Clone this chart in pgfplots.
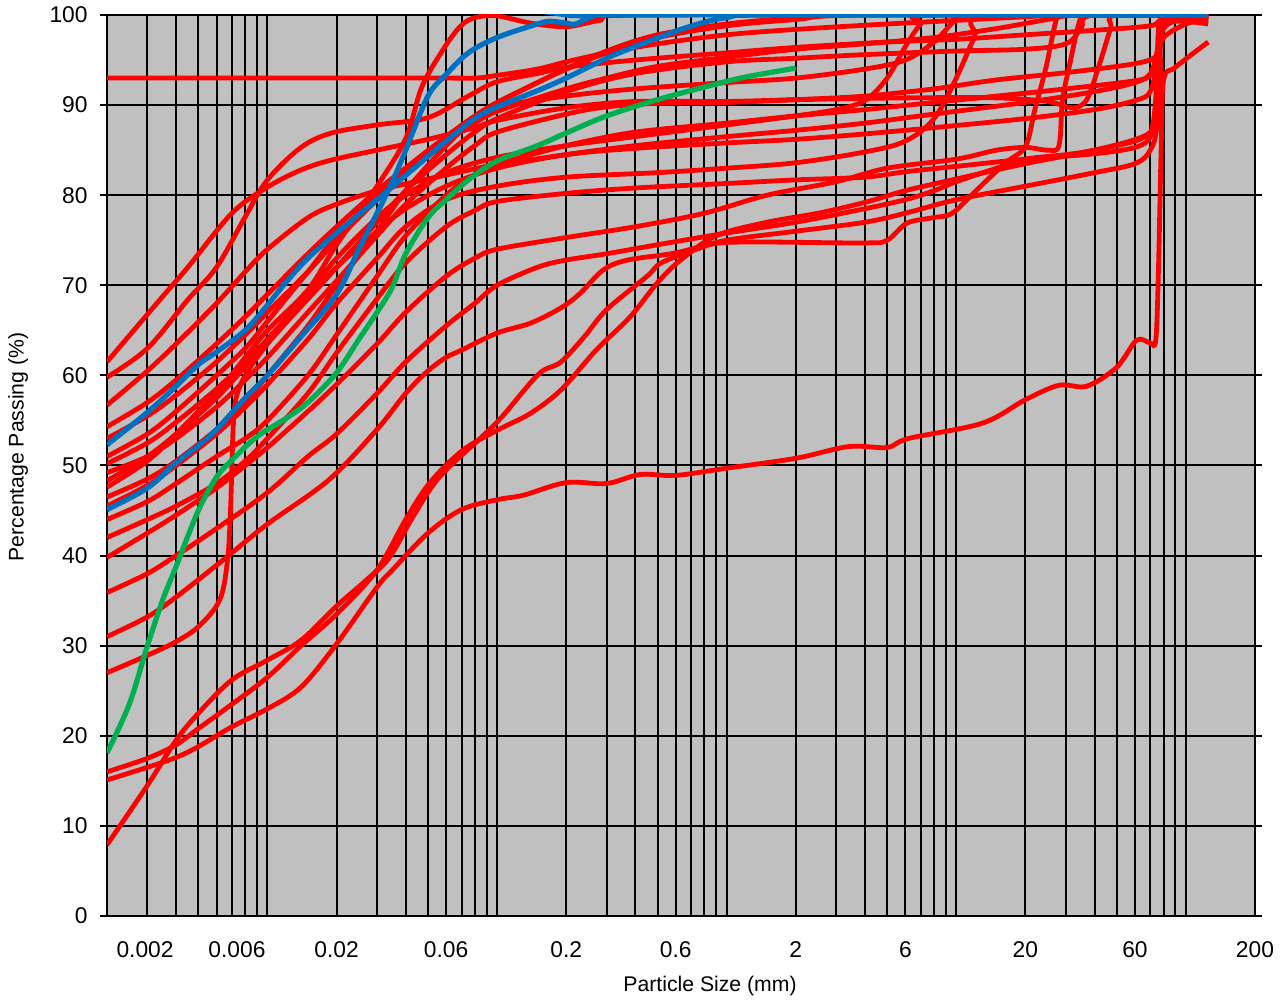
\documentclass[border=0pt]{standalone}
\usepackage{pgfplots}
\pgfplotsset{compat=1.18}
\usepackage{fontspec}
\setmainfont{Liberation Sans}
\definecolor{bggray}{RGB}{192,192,192}
\definecolor{rr}{RGB}{255,0,0}
\definecolor{bb}{RGB}{0,112,192}
\definecolor{gg}{RGB}{0,176,80}
\begin{document}
\fontsize{10.6bp}{12bp}\selectfont
\begin{tikzpicture}
\path[use as bounding box] (-53.5bp,-42.5bp) rectangle (589.5bp,458bp);
\begin{axis}[
  at={(0,0)}, anchor=south west,
  scale only axis, width=574bp, height=450.5bp,
  xmode=log,
  xmin=0.002, xmax=200, ymin=0, ymax=100,
  axis background/.style={fill=bggray},
  axis line style={black, line width=1.1bp},
  ytick={0,10,...,100},
  ymajorgrids,
  major grid style={black, line width=1bp},
  minor grid style={black, line width=1bp},
  xtick={0.00293,0.00736,0.02,0.06,0.2,0.6,2,6,20,60,200},
  xticklabels={0.002,0.006,0.02,0.06,0.2,0.6,2,6,20,60,200},
  minor xtick={0.002,0.003,0.004,0.005,0.006,0.007,0.008,0.009,0.01,0.02,0.03,0.04,0.05,0.06,0.07,0.08,0.09,0.1,0.2,0.3,0.4,0.5,0.6,0.7,0.8,0.9,1,2,3,4,5,6,7,8,9,10,20,30,40,50,60,70,80,90,100,200},
  xminorgrids,
  tick align=outside,
  major tick length=3.5bp,
  minor tick length=0pt,
  xtick style={draw=none},
  ytick style={black, line width=1bp},
  yticklabel style={xshift=-2.5bp},
  xticklabel style={yshift=-5.5bp},
  /pgf/number format/assume math mode=true,
  tick label style={font=\fontsize{11.4bp}{13bp}\selectfont},
  xlabel={Particle Size (mm)},
  ylabel={Percentage Passing (\%)},
  xlabel style={at={(rel axis cs:0.5253,-0.0777)}, anchor=center, font=\fontsize{10.6bp}{12bp}\selectfont},
  ylabel style={at={(rel axis cs:-0.0775,0.5205)}, anchor=center, font=\fontsize{10.6bp}{12bp}\selectfont},
  every axis plot/.append style={smooth, tension=0.55, line width=2.4bp},
]
% ---------- red curves ----------
\addplot[rr] coordinates {(0.002,93)(0.05,93)(0.08,93)(0.1,93.3)(0.15,94)(0.2,94.8)(0.3,95.8)(0.5,96.8)(1,97.8)(2,98.4)(5,99)(10,99.4)(20,99.8)(30,100)(125,100)};
\addplot[rr] coordinates {(0.002,47.6)(0.003,50.5)(0.004,53.5)(0.005,56)(0.006,58)(0.008,62)(0.01,65)(0.015,69.5)(0.02,74.5)(0.03,81)(0.04,86.3)(0.047,92)(0.058,96.1)(0.069,98.7)(0.08,99.7)(0.1,99.9)(0.14,99.1)(0.2,98.7)(0.28,99.4)(0.45,100)(125,100)};
\addplot[rr] coordinates {(0.002,61.5)(0.0034,68.4)(0.0045,72)(0.007,78)(0.01,80.9)(0.014,82.8)(0.019,83.9)(0.03,85)(0.05,86.2)(0.08,87.5)(0.1,88.3)(0.2,89.7)(0.4,90.4)(1,90.4)(2,90.6)(6,90.8)(15,90.8)(25,90.4)(32,89.7)(37,90.6)(42,94.5)(47,98.5)(50,100)(125,100)};
\addplot[rr] coordinates {(0.002,59.8)(0.003,63)(0.0045,68.4)(0.006,72)(0.008,77.6)(0.01,81.7)(0.014,85.3)(0.019,86.9)(0.03,87.8)(0.05,88.6)(0.075,91)(0.1,92.6)(0.15,93.5)(0.2,94.2)(0.4,95)(1,95.8)(2,96.4)(5,97)(10,97.3)(20,97.8)(40,98.3)(70,98.8)(80,99.5)(125,99.8)};
\addplot[rr] coordinates {(0.002,56.7)(0.003,60.5)(0.004,63.5)(0.006,68)(0.008,71.5)(0.01,74)(0.015,77.5)(0.02,79)(0.03,80.5)(0.05,81.8)(0.1,83.5)(0.2,85.5)(0.4,87)(1,88)(2,88.8)(4,89.5)(8,90.3)(15,91)(30,91.8)(60,92.7)(70,93.3)(75,94.5)(80,99)(125,99)};
\addplot[rr] coordinates {(0.002,54.3)(0.003,57)(0.004,59.5)(0.006,63.5)(0.008,66.5)(0.01,69)(0.015,73.5)(0.02,76.5)(0.03,80.5)(0.04,83)(0.06,86)(0.08,88)(0.1,89.3)(0.2,91.8)(0.3,93)(0.5,94.3)(1,95.3)(2,96.2)(4,96.8)(8,97.5)(15,98.5)(25,99.5)(35,100)(125,100)};
\addplot[rr] coordinates {(0.002,51)(0.003,53.5)(0.004,56)(0.006,60)(0.008,63)(0.01,66)(0.015,71.5)(0.02,75.5)(0.03,80)(0.04,83)(0.06,86.5)(0.08,88.8)(0.1,90.3)(0.15,92.5)(0.2,94)(0.3,95.8)(0.5,97.5)(1,98.8)(2,99.5)(4,100)(125,100)};
\addplot[rr] coordinates {(0.002,50.2)(0.003,52.5)(0.004,54.8)(0.006,58.5)(0.008,61.5)(0.01,64)(0.015,68.5)(0.02,72)(0.03,77)(0.04,80.5)(0.06,84.5)(0.08,87)(0.1,88.5)(0.2,91.5)(0.4,93.5)(1,94.8)(2,95.2)(4,95.6)(10,96)(20,96.2)(30,96.8)(35,98.5)(40,100)(125,100)};
\addplot[rr] coordinates {(0.002,49.2)(0.003,51)(0.004,53)(0.006,56.5)(0.008,59.5)(0.01,62)(0.015,67)(0.02,70.5)(0.03,75.5)(0.04,79)(0.06,83)(0.08,85.5)(0.1,87)(0.2,89)(0.3,89.8)(0.5,90.2)(1,90.3)(2,90.6)(4,91)(8,91.8)(15,92.8)(30,93.6)(60,94.6)(75,95.5)(80,97.5)(100,99)(125,99.5)};
\addplot[rr] coordinates {(0.002,46.5)(0.003,48.5)(0.004,50.5)(0.006,54)(0.008,57)(0.01,60)(0.015,65.5)(0.02,70)(0.03,76)(0.04,80.5)(0.06,85.5)(0.08,88.5)(0.1,90.2)(0.15,92.5)(0.2,94)(0.3,96)(0.5,97.8)(1,99)(2,99.7)(3,100)(125,100)};
\addplot[rr] coordinates {(0.002,44)(0.003,46)(0.004,48)(0.006,51)(0.008,53)(0.01,55)(0.015,60)(0.02,64.5)(0.03,71)(0.04,75.5)(0.06,80)(0.08,82.3)(0.1,83.3)(0.2,84.5)(0.4,85.5)(1,86.5)(2,87.2)(4,88)(8,89)(20,90.3)(40,91.5)(60,92.5)(70,93.5)(75,96)(80,100)(125,100)};
\addplot[rr] coordinates {(0.002,42)(0.003,44)(0.004,45.5)(0.006,48)(0.008,50.5)(0.01,53)(0.015,58)(0.02,62.5)(0.03,68.5)(0.04,72.5)(0.06,76.5)(0.08,78.3)(0.1,79.3)(0.2,80.2)(0.4,80.8)(1,81.3)(2,81.7)(4,82)(6,82.6)(10,83.2)(20,84)(40,84.6)(60,85.3)(70,86.5)(75,90)(80,98.5)(125,99.5)};
\addplot[rr] coordinates {(0.002,39.8)(0.003,42.5)(0.004,44.5)(0.006,47.5)(0.008,50)(0.01,52)(0.015,56)(0.02,59)(0.03,63.5)(0.04,67)(0.06,71)(0.08,73)(0.1,74)(0.2,75.3)(0.4,76.5)(0.8,78)(1.5,80)(3,81.5)(5,83)(10,84)(15,85)(20,85.3)(25,85)(28,85.5)(29,90.5)(31,94.2)(35,99.8)(40,100)(125,100)};
\addplot[rr] coordinates {(0.002,35.9)(0.003,38)(0.004,40)(0.006,43)(0.01,47)(0.015,51)(0.02,53.5)(0.03,58)(0.04,61.5)(0.06,65.5)(0.08,68)(0.1,70)(0.15,72)(0.2,72.8)(0.3,73.5)(0.5,74.5)(1,75.8)(2,77)(4,78.5)(6,79.5)(8,80.5)(10,81.5)(15,83)(20,84)(30,84.5)(40,85)(60,86)(70,87)(75,88)(78,92)(80,100)(125,100)};
\addplot[rr] coordinates {(0.002,53)(0.003,55.5)(0.004,57.8)(0.006,61.5)(0.008,64.5)(0.01,67)(0.015,71.5)(0.02,75)(0.03,79.5)(0.04,82.5)(0.06,86.3)(0.08,88.5)(0.1,89.8)(0.2,91)(0.4,91.8)(1,92.5)(2,93)(4,94)(6,95)(8,97)(10,99.5)(12,100)(125,100)};
\addplot[rr] coordinates {(0.002,48.3)(0.003,51)(0.004,53.5)(0.006,57.5)(0.008,61)(0.01,64)(0.015,69)(0.02,73)(0.03,77.5)(0.04,80)(0.06,82.5)(0.1,84.2)(0.2,85.5)(0.4,86.5)(1,87.8)(2,88.8)(3,89.5)(4,90.5)(5,93)(6,96.5)(7,99)(8,100)(125,100)};
\addplot[rr] coordinates {(0.002,45.5)(0.003,47.8)(0.004,50)(0.006,53.5)(0.008,56.5)(0.01,59)(0.015,64)(0.02,68)(0.03,73)(0.04,76.5)(0.06,79.5)(0.1,81)(0.2,82)(0.5,82.5)(1,83)(2,83.6)(4,84.8)(6,86)(8,88.5)(10,93)(12,97.5)(14,100)(125,100)};
\addplot[rr] coordinates {(0.002,7.9)(0.003,14.5)(0.004,19.5)(0.005,22.5)(0.007,26.2)(0.01,28.4)(0.014,30.6)(0.02,34.4)(0.027,37.3)(0.034,39.8)(0.043,44.3)(0.056,48.7)(0.086,53.2)(0.105,55.4)(0.14,59.2)(0.16,60.6)(0.19,61.5)(0.24,64.3)(0.3,67.3)(0.45,71)(0.52,72.5)(0.74,74)(0.93,74.7)(1.5,74.8)(4,74.7)(5,75)(6.1,76.9)(7.9,77.5)(9.6,78)(12.3,80.6)(16.4,83.6)(20,85.4)(22,89.5)(24.6,94.2)(27.5,99.8)(30,100)(125,100)};
\addplot[rr] coordinates {(0.002,16)(0.003,17.5)(0.004,19)(0.005,20.8)(0.007,23.5)(0.01,26.5)(0.014,30)(0.02,33.5)(0.03,38.4)(0.04,44)(0.051,48.1)(0.071,51.7)(0.1,53.9)(0.14,55.8)(0.19,58.4)(0.27,62.8)(0.38,66.5)(0.5,70.3)(0.63,72.8)(0.9,75.5)(1.5,77)(2.5,78)(4,79.2)(6,80.5)(10,81.8)(20,83.5)(40,85)(65,86.5)(72,88)(76,95)(80,99)(125,100)};
\addplot[rr] coordinates {(0.002,15.1)(0.003,16.5)(0.004,17.6)(0.005,18.8)(0.007,21)(0.01,23)(0.014,25.4)(0.02,30.2)(0.03,36.5)(0.035,38.4)(0.05,42.5)(0.07,45.1)(0.1,46.2)(0.13,46.7)(0.2,48.1)(0.3,48)(0.42,49)(0.6,48.9)(1,49.7)(2,50.8)(3.4,52.1)(5,52)(6.2,53)(13,54.7)(20,57.3)(28,58.9)(37,58.8)(50,60.9)(61,63.9)(70,63.6)(74,64)(76,72)(78,85)(80,92.8)(90,94.2)(125,97)};
\addplot[rr] coordinates {(0.002,27)(0.00286,28.7)(0.0039,30.3)(0.005,32.1)(0.0062,35.1)(0.0067,39.5)(0.0069,45)(0.007,50)(0.0071,54.5)(0.0073,57.5)(0.008,60)(0.01,63.5)(0.015,68.5)(0.02,72)(0.03,76)(0.04,78.5)(0.06,81)(0.1,83)(0.2,84.5)(0.4,85.2)(1,85.8)(2,86.2)(4,86.8)(8,87.5)(20,88.5)(40,89.5)(60,90.5)(70,91.5)(75,95)(80,100)(125,100)};
\addplot[rr] coordinates {(0.002,31)(0.003,33.2)(0.004,35.4)(0.0064,39.5)(0.01,43.5)(0.0185,48.4)(0.03,54)(0.04,58)(0.05,60.5)(0.06,62)(0.07,62.8)(0.1,64.7)(0.14,65.8)(0.19,67.5)(0.23,69.1)(0.29,71.7)(0.37,72.8)(0.6,73.6)(1,75)(2,76)(4,77)(6,78)(10,79.5)(20,81)(40,82.5)(60,83.5)(70,85)(75,88)(80,99)(125,99.5)};
% ---------- blue curves ----------
\addplot[bb, line width=2.6bp] coordinates {(0.002,52.3)(0.003,55.9)(0.004,58.8)(0.005,61.2)(0.006,62.6)(0.008,65)(0.01,67.8)(0.012,70.3)(0.015,73)(0.02,75.8)(0.03,79.5)(0.04,82.2)(0.06,86)(0.08,88.5)(0.1,89.8)(0.15,91.6)(0.2,93)(0.3,95.2)(0.4,96.5)(0.6,98.2)(0.8,99.2)(1,99.7)(1.5,100)(125,100)};
\addplot[bb, line width=2.6bp] coordinates {(0.002,45.1)(0.003,47.5)(0.004,50.3)(0.005,52.2)(0.006,54)(0.008,57.5)(0.01,60)(0.014,64.3)(0.02,69)(0.025,74)(0.03,78)(0.035,81.5)(0.04,85)(0.05,91)(0.06,93.4)(0.075,95.8)(0.1,97.5)(0.15,99)(0.17,99.3)(0.2,99.1)(0.22,99)(0.26,99.8)(0.33,100)(125,100)};
% ---------- green curve ----------
\addplot[gg, line width=2.6bp] coordinates {(0.002,18.1)(0.0025,23.5)(0.003,30)(0.0035,35.1)(0.004,38.8)(0.005,45)(0.006,48.7)(0.007,50.6)(0.009,53.2)(0.012,55.2)(0.015,57)(0.02,60.3)(0.025,64)(0.03,67)(0.035,69.8)(0.04,73.5)(0.05,77.5)(0.06,79.5)(0.075,81.7)(0.1,83.8)(0.15,85.5)(0.2,86.9)(0.3,88.8)(0.5,90.6)(0.8,92)(1.2,93.1)(2,94.1)};
\end{axis}
\end{tikzpicture}
\end{document}
